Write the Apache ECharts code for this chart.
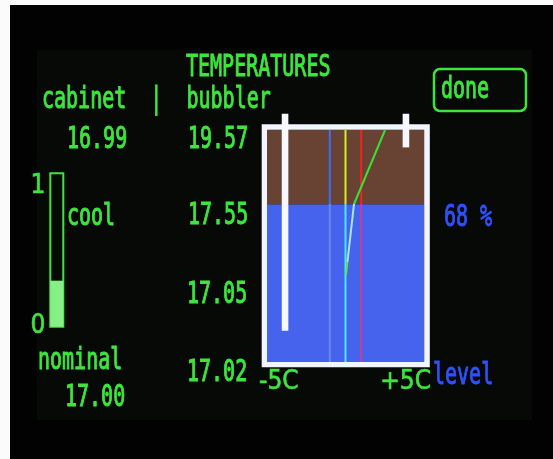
<!DOCTYPE html>
<html><head><meta charset="utf-8">
<script src="https://cdn.jsdelivr.net/npm/echarts@6/dist/echarts.min.js"></script>
<style>html,body{margin:0;padding:0;background:#000;}#c{width:553px;height:459px;}</style>
</head><body><div id="c"></div>
<script>
// ---------- data ----------
const titleText = 'TEMPERATURES';
const headerText = 'cabinet  |  bubbler';
const cabinetTemp = '16.99';
const nominalTemp = '17.00';
const bubblerTemps = ['19.57', '17.55', '17.05', '17.02'];
const coolLabel = 'cool';
const nominalLabel = 'nominal';
const doneLabel = 'done';
const levelLabel = 'level';
const levelPct = 68;              // liquid level, % of height
const coolValue = 0.3;            // cooler duty, 0..1
const coolTicks = [0, 1];
const xTickValues = [-5, 5];
const xTickLabels = ['-5C', '+5C'];
const refLineTemps = [-1, 0, 1];  // reference lines, deg C
const profileTemps = [2.52, 0.54, 0.03];
const profileHeights = [100, 68, 37.5];
const barTemps = [-3.85, 3.85];
const barBottoms = [13.5, 92.5];
const barTops = [107, 107];

// ---------- styles ----------
const GREEN = '#3ce63c';
const BLUE_TXT = '#2f50ff';
const MONO = '20px "DejaVu Sans Mono", "Liberation Mono", monospace';
const NARROW = '"Liberation Sans Narrow", "DejaVu Sans Condensed", sans-serif';
const refColorsAbove = ['#3f6df5', '#d6ef1a', '#ee2424'];
const refColorsBelow = ['#6a84f2', '#4fe6f2', '#c83c9c'];

const chart = echarts.init(document.getElementById('c'), null, {renderer: 'canvas'});

const series = [];
const visualMaps = [];

// liquid level fill (brown headspace, blue liquid)
series.push({
  type: 'line', xAxisIndex: 0, yAxisIndex: 0, data: [], z: 1, silent: true,
  markArea: {
    silent: true, label: {show: false},
    data: [
      [{yAxis: 0, itemStyle: {color: '#4663ee'}}, {yAxis: levelPct}],
      [{yAxis: levelPct, itemStyle: {color: '#684232'}}, {yAxis: 100}]
    ]
  }
});

// reference temperature lines
refLineTemps.forEach((t, i) => {
  visualMaps.push({
    type: 'piecewise', show: false, dimension: 1, seriesIndex: series.length,
    pieces: [{gte: -10, lt: levelPct, color: refColorsBelow[i]}, {gte: levelPct, lte: 110, color: refColorsAbove[i]}]
  });
  series.push({
    type: 'line', xAxisIndex: 0, yAxisIndex: 0, z: 3, symbol: 'none', silent: true,
    lineStyle: {width: 2},
    data: [[t, 0], [t, 100]]
  });
});

// temperature profile
visualMaps.push({
  type: 'piecewise', show: false, dimension: 1, seriesIndex: series.length,
  pieces: [{gte: -10, lt: 43, color: '#5ee05a'}, {gte: 43, lt: levelPct, color: '#a8e6ff'}, {gte: levelPct, lte: 110, color: '#38e038'}]
});
series.push({
  type: 'line', xAxisIndex: 0, yAxisIndex: 0, z: 4, symbol: 'none', silent: true,
  lineStyle: {width: 2},
  data: profileTemps.map((t, i) => [t, profileHeights[i]])
});

// white indicator bars
barTemps.forEach((t, i) => {
  series.push({
    type: 'line', xAxisIndex: 0, yAxisIndex: 0, z: 6, symbol: 'none', silent: true, clip: false,
    lineStyle: {width: 6.6, color: '#f7f7ff', cap: 'butt'},
    data: [[t, barBottoms[i]], [t, barTops[i]]]
  });
});

// cooler gauge
series.push({
  type: 'bar', xAxisIndex: 1, yAxisIndex: 1, barWidth: '100%', silent: true,
  itemStyle: {color: '#86f086'},
  data: [coolValue]
});

function txt(text, x, cy, color) {
  return {
    type: 'text', x: x, y: cy, scaleY: 1.5, z: 10, silent: true,
    style: {text: text, x: 0, y: 0, fill: color, stroke: color, lineWidth: 0.7,
            font: MONO, align: 'left', verticalAlign: 'middle'}
  };
}

const option = {
  backgroundColor: '#020202',
  animation: false,
  grid: [
    {left: 267, right: 129, top: 130, bottom: 97},
    {left: 50.3, top: 173.3, width: 13, height: 153.4, show: true, borderColor: GREEN, borderWidth: 2, backgroundColor: 'transparent'},
    {left: 264.5, top: 127, width: 162.5, height: 237.5, show: true, borderColor: '#f2f4ff', borderWidth: 5.6, backgroundColor: 'transparent'}
  ],
  xAxis: [
    {type: 'value', gridIndex: 0, min: -5, max: 5, position: 'bottom',
     axisLine: {show: false}, axisTick: {show: false}, splitLine: {show: false},
     axisLabel: {show: true, customValues: xTickValues,
       formatter: v => xTickLabels[xTickValues.indexOf(v)],
       alignMinLabel: 'left', alignMaxLabel: 'right', padding: [0, -7, 0, -8],
       color: GREEN, fontFamily: NARROW, fontSize: 26, margin: 7,
       textBorderColor: GREEN, textBorderWidth: 0.6}},
    {type: 'category', gridIndex: 1, data: [coolLabel], show: false},
    {type: 'value', gridIndex: 2, min: -5, max: 5, show: false}
  ],
  yAxis: [
    {type: 'value', gridIndex: 0, min: 0, max: 100, show: false},
    {type: 'value', gridIndex: 1, min: coolTicks[0], max: coolTicks[1], interval: 1,
     axisLine: {show: false}, axisTick: {show: false}, splitLine: {show: false},
     axisLabel: {color: GREEN, fontFamily: NARROW, fontSize: 26, margin: 5,
       textBorderColor: GREEN, textBorderWidth: 0.6,
       verticalAlignMaxLabel: 'top'}},
    {type: 'value', gridIndex: 2, min: 0, max: 100, show: false}
  ],
  visualMap: visualMaps,
  series: series,
  graphic: [
    {type: 'rect', z: -10, silent: true, shape: {x: 37, y: 50, width: 495, height: 370}, style: {fill: '#070907'}},
    {type: 'rect', z: -9, silent: true, shape: {x: 0, y: 0, width: 10, height: 459}, style: {fill: '#fbfbfb'}},
    {type: 'rect', z: -9, silent: true, shape: {x: 0, y: 0, width: 553, height: 5}, style: {fill: '#fbfbfb'}},
    txt(titleText, 186, 68, GREEN),
    txt(headerText, 42, 100, GREEN),
    txt(cabinetTemp, 67, 140, GREEN),
    txt(bubblerTemps[0], 188, 140, GREEN),
    txt(bubblerTemps[1], 188, 216.5, GREEN),
    txt(bubblerTemps[2], 187, 295, GREEN),
    txt(bubblerTemps[3], 187, 373.5, GREEN),
    txt(coolLabel, 67, 217.5, GREEN),
    txt(nominalLabel, 38, 361, GREEN),
    txt(nominalTemp, 65, 398, GREEN),
    txt(doneLabel, 441, 90, GREEN),
    txt(levelPct + ' %', 444, 218, BLUE_TXT),
    txt(levelLabel, 433, 376.5, BLUE_TXT),
    {type: 'rect', z: 10, silent: true, shape: {x: 434, y: 69, width: 92, height: 42, r: 6},
     style: {fill: 'none', stroke: GREEN, lineWidth: 2.5}}
  ]
};
chart.setOption(option);
</script>
</body></html>
